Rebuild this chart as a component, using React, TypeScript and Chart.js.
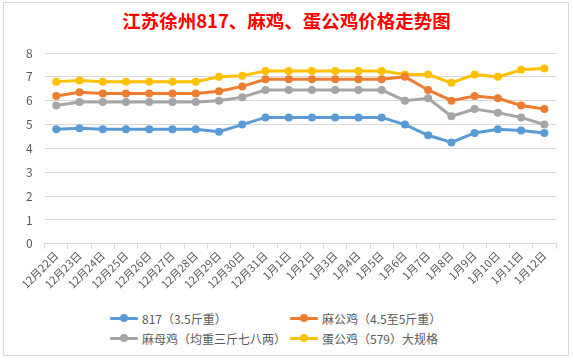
import React, { useEffect, useRef } from "react";
import { Chart, registerables } from "chart.js";

Chart.register(...registerables);

const categories = [
  "12月22日", "12月23日", "12月24日", "12月25日", "12月26日", "12月27日", "12月28日",
  "12月29日", "12月30日", "12月31日", "1月1日", "1月2日", "1月3日", "1月4日", "1月5日",
  "1月6日", "1月7日", "1月8日", "1月9日", "1月10日", "1月11日", "1月12日",
];
const s817 = [4.8, 4.85, 4.8, 4.8, 4.8, 4.8, 4.8, 4.7, 5.0, 5.3, 5.3, 5.3, 5.3, 5.3, 5.3, 5.0, 4.55, 4.25, 4.65, 4.8, 4.75, 4.65];
const sMaGong = [6.2, 6.35, 6.3, 6.3, 6.3, 6.3, 6.3, 6.4, 6.6, 6.9, 6.9, 6.9, 6.9, 6.9, 6.9, 7.0, 6.45, 6.0, 6.2, 6.1, 5.8, 5.65];
const sMaMu = [5.8, 5.95, 5.95, 5.95, 5.95, 5.95, 5.95, 6.0, 6.15, 6.45, 6.45, 6.45, 6.45, 6.45, 6.45, 6.0, 6.1, 5.35, 5.65, 5.5, 5.3, 5.0];
const sDanGong = [6.8, 6.85, 6.8, 6.8, 6.8, 6.8, 6.8, 7.0, 7.05, 7.25, 7.25, 7.25, 7.25, 7.25, 7.25, 7.1, 7.1, 6.75, 7.1, 7.0, 7.3, 7.35];
const seriesNames = ["817（3.5斤重）", "麻公鸡（4.5至5斤重）", "麻母鸡（均重三斤七八两）", "蛋公鸡（579）大规格"];
const colors = ["#5B9BD5", "#ED7D31", "#A5A5A5", "#FFC000"];
const yTicks = [0, 1, 2, 3, 4, 5, 6, 7, 8];
const title = "江苏徐州817、麻鸡、蛋公鸡价格走势图";

const FONT = "'Noto Sans CJK SC', 'Noto Sans', sans-serif";

export default function App() {
  const ref = useRef<HTMLCanvasElement | null>(null);
  useEffect(() => {
    document.body.style.margin = "0";
    const values = [s817, sMaGong, sMaMu, sDanGong];
    const chart = new Chart(ref.current as HTMLCanvasElement, {
      type: "line",
      data: {
        labels: categories,
        datasets: values.map((v, i) => ({
          label: seriesNames[i],
          data: v,
          borderColor: colors[i],
          backgroundColor: colors[i],
          borderWidth: 3,
          pointRadius: 4,
          pointHoverRadius: 4,
          pointBorderWidth: 0,
          tension: 0,
        })),
      },
      options: {
        animation: false,
        responsive: false,
        maintainAspectRatio: false,
        layout: { padding: { top: 50, left: 11, right: 13, bottom: 0 } },
        plugins: {
          legend: { display: false },
          title: { display: false },
          tooltip: { enabled: false },
        },
        scales: {
          x: {
            offset: true,
            grid: {
              display: true,
              offset: true,
              drawOnChartArea: false,
              drawTicks: true,
              tickLength: 5,
              color: "#D9D9D9",
            },
            border: { display: true, color: "#D9D9D9" },
            ticks: {
              maxRotation: 45,
              minRotation: 45,
              autoSkip: false,
              color: "#595959",
              font: { family: FONT, size: 11 },
              padding: 0,
            },
          },
          y: {
            min: 0,
            max: 8,
            afterBuildTicks: (axis: any) => {
              axis.ticks = yTicks.map((v) => ({ value: v }));
            },
            grid: { color: "#D9D9D9", drawTicks: false },
            border: { display: false },
            ticks: {
              color: "#595959",
              font: { family: FONT, size: 12 },
              padding: 12,
            },
          },
        },
      },
    });
    return () => chart.destroy();
  }, []);

  const legendItem = (i: number, left: number, top: number) => (
    <div
      key={i}
      style={{ position: "absolute", left, top, display: "flex", alignItems: "center", height: 16 }}
    >
      <div style={{ position: "relative", width: 28, height: 16, marginRight: 4 }}>
        <div style={{ position: "absolute", left: 0, top: 6.5, width: 28, height: 3, background: colors[i], borderRadius: 1 }} />
        <div style={{ position: "absolute", left: 10, top: 4, width: 8, height: 8, borderRadius: 4, background: colors[i] }} />
      </div>
      <span style={{ fontFamily: FONT, fontSize: 12, color: "#595959", whiteSpace: "nowrap" }}>{seriesNames[i]}</span>
    </div>
  );

  return (
    <div style={{ position: "fixed", left: 0, top: 0, width: 573, height: 360, background: "#fff", overflow: "hidden" }}>
      <div
        style={{
          position: "absolute",
          left: 3,
          top: 2,
          width: 566,
          height: 354,
          border: "1px solid #D9D9D9",
          boxSizing: "border-box",
          background: "#fff",
        }}
      />
      <div
        style={{
          position: "absolute",
          left: 0,
          top: 8,
          width: 573,
          textAlign: "center",
          fontFamily: FONT,
          fontWeight: "bold",
          fontSize: 18.5,
          color: "#FF0000",
          lineHeight: "24px",
        }}
      >
        {title}
      </div>
      <canvas ref={ref} width={566} height={288} style={{ position: "absolute", left: 3, top: 3, width: 566, height: 288 }} />
      {legendItem(0, 110, 310)}
      {legendItem(1, 290, 310)}
      {legendItem(2, 110, 330)}
      {legendItem(3, 290, 330)}
    </div>
  );
}
